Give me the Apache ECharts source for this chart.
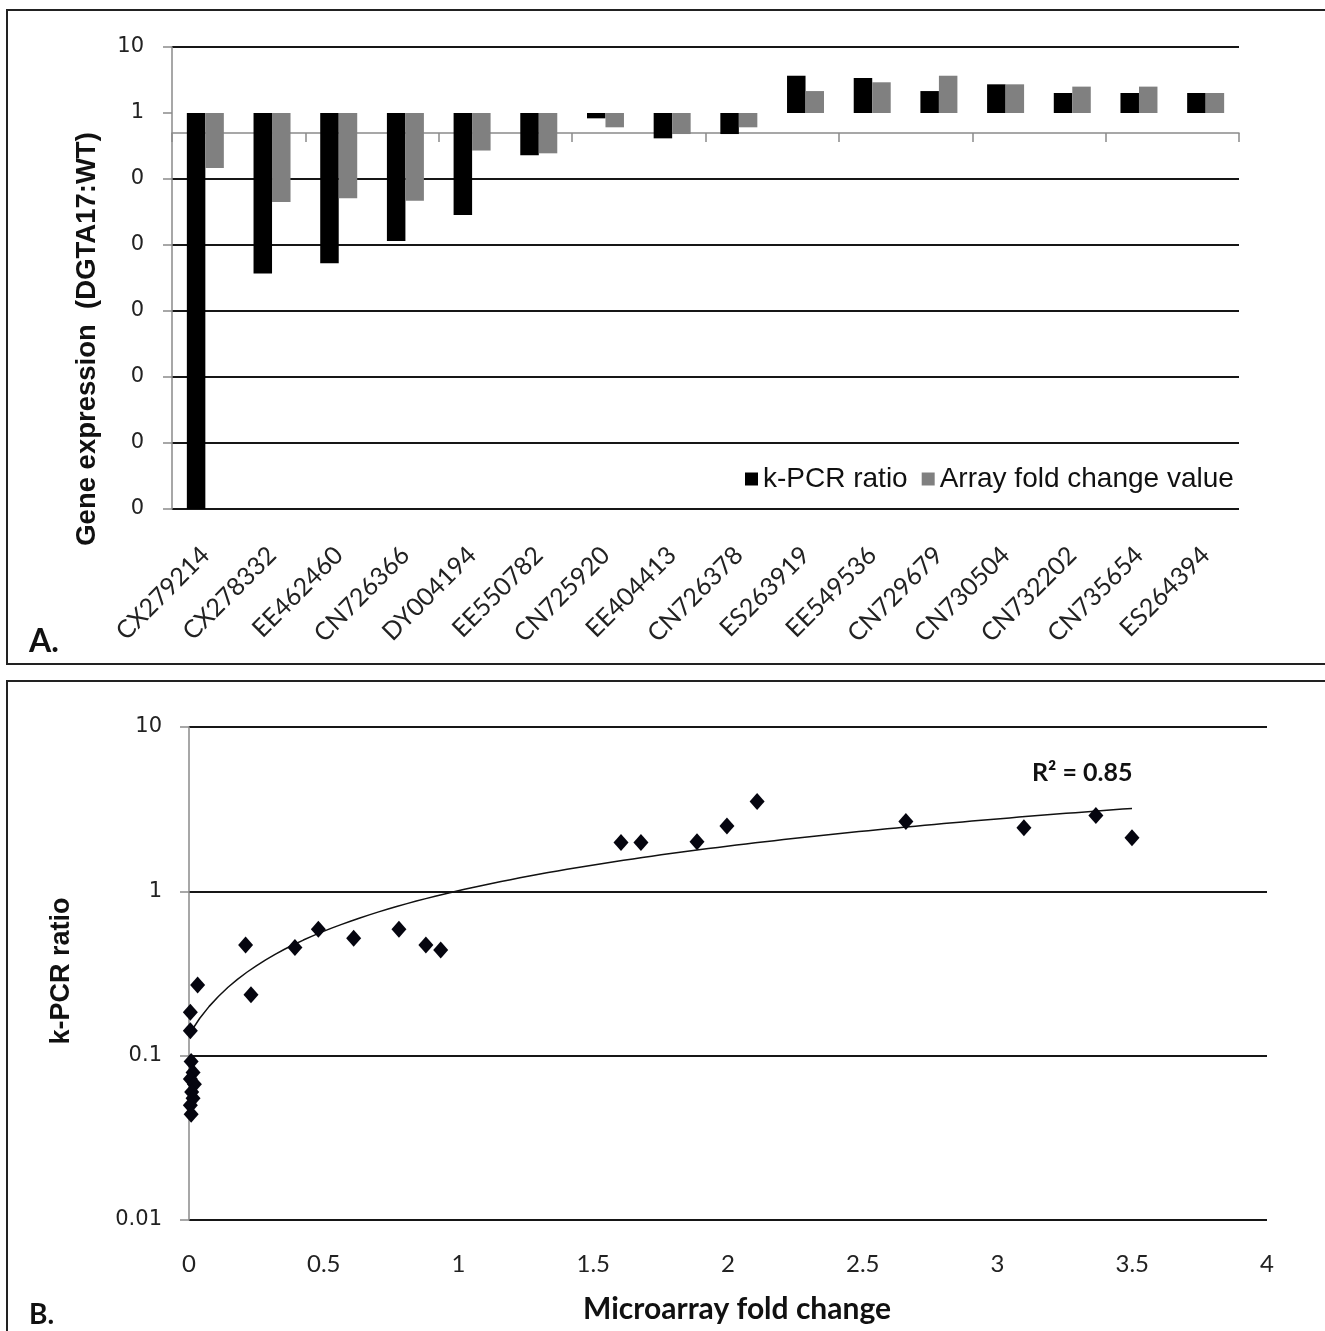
<!DOCTYPE html>
<html>
<head>
<meta charset="utf-8">
<script src="https://cdn.jsdelivr.net/npm/echarts@6/dist/echarts.min.js"></script>
<style>
html,body{margin:0;padding:0;background:#fff;}
#chart{width:1325px;height:1331px;}
</style>
</head>
<body>
<div id="chart"></div>
<script>
// ---- Panel A data ----
const genes = ['CX279214','CX278332','EE462460','CN726366','DY004194','EE550782','CN725920','EE404413',
               'CN726378','ES263919','EE549536','CN729679','CN730504','CN732202','CN735654','ES264394'];
const kpcrRatio = [0.000001, 0.0037, 0.0053, 0.0115, 0.0285, 0.229, 0.83, 0.413,
                   0.48, 3.67, 3.39, 2.15, 2.72, 2.01, 2.01, 2.01];
const arrayFoldChange = [0.147, 0.045, 0.051, 0.047, 0.27, 0.245, 0.607, 0.48,
                         0.607, 2.15, 2.92, 3.67, 2.72, 2.51, 2.51, 2.01];
const yTickValuesA = [0.000001, 0.00001, 0.0001, 0.001, 0.01, 0.1, 1, 10];
const yTickLabelsA = ['0', '0', '0', '0', '0', '0', '1', '10'];

// ---- Panel B data ----
const microarrayFC = [0.005, 0.005, 0.008, 0.015, 0.005, 0.02, 0.01, 0.015, 0.005, 0.008,
                      0.032, 0.21, 0.23, 0.393, 0.48, 0.611, 0.779, 0.879, 0.934,
                      1.603, 1.677, 1.885, 1.996, 2.108, 2.66, 3.098, 3.365, 3.499];
const kpcrB = [0.184, 0.142, 0.092, 0.079, 0.072, 0.067, 0.06, 0.055, 0.05, 0.044,
               0.269, 0.472, 0.235, 0.456, 0.587, 0.518, 0.587, 0.472, 0.44,
               1.98, 1.98, 2.0, 2.5, 3.52, 2.66, 2.44, 2.89, 2.12];
const yTickValuesB = [0.01, 0.1, 1, 10];
const yTickLabelsB = ['0.01', '0.1', '1', '10'];
const r2Text = 'R\u00B2 = 0.85';

// linear least-squares trendline fitted to panel B data
const n = microarrayFC.length;
let sx = 0, sy = 0, sxx = 0, sxy = 0;
for (let i = 0; i < n; i++) {
  sx += microarrayFC[i]; sy += kpcrB[i];
  sxx += microarrayFC[i] * microarrayFC[i]; sxy += microarrayFC[i] * kpcrB[i];
}
const slope = (n * sxy - sx * sy) / (n * sxx - sx * sx);
const intercept = (sy - slope * sx) / n;
const xMin = Math.min(...microarrayFC), xMax = Math.max(...microarrayFC);
const trend = [];
for (let i = 0; i <= 100; i++) {
  const x = xMin + (xMax - xMin) * i / 100;
  trend.push([x, intercept + slope * x]);
}

function tickLabel(values, labels) {
  return function (v) {
    let best = 0, bd = Infinity;
    for (let i = 0; i < values.length; i++) {
      const d = Math.abs(Math.log10(v) - Math.log10(values[i]));
      if (d < bd) { bd = d; best = i; }
    }
    return labels[best];
  };
}

const chart = echarts.init(document.getElementById('chart'), null, {renderer: 'canvas'});
const gridColor = '#161616';
const axisGray = '#8a8a8a';
const splitColorsA = yTickValuesA.map(v => v === 1 ? 'rgba(0,0,0,0)' : gridColor);

chart.setOption({
  animation: false,
  backgroundColor: '#fff',
  grid: [
    {left: 172, top: 47, width: 1067, height: 462, containLabel: false, outerBoundsMode: 'none'},
    {left: 189, top: 727, width: 1078, height: 493, containLabel: false, outerBoundsMode: 'none'},
    {left: 172, top: 113, width: 1067, height: 20, containLabel: false, outerBoundsMode: 'none'}
  ],
  legend: {
    data: ['k-PCR ratio', 'Array fold change value'],
    left: 740, top: 460,
    icon: 'rect', itemWidth: 13, itemHeight: 13, itemGap: 14,
    textStyle: {fontFamily: '"Liberation Sans", Arial, sans-serif', fontSize: 28, color: '#111'},
    selectedMode: false
  },
  xAxis: [
    {
      gridIndex: 0, type: 'category', data: genes,
      axisLine: {show: false}, axisTick: {show: false}, splitLine: {show: false},
      axisLabel: {interval: 0, rotate: 45, margin: 42, fontFamily: 'Lato, sans-serif', fontSize: 25, color: '#222'}
    },
    {
      gridIndex: 1, type: 'value', min: 0, max: 4, interval: 0.5,
      axisLine: {show: false}, axisTick: {show: false}, splitLine: {show: false},
      axisLabel: {margin: 32, fontFamily: 'Lato, sans-serif', fontSize: 24, color: '#222', formatter: v => String(v)}
    },
    {
      gridIndex: 2, type: 'category', data: genes, position: 'top',
      axisLine: {show: true, lineStyle: {color: axisGray, width: 1.5}},
      axisTick: {show: true, inside: true, length: 9, lineStyle: {color: axisGray, width: 1.5}},
      axisLabel: {show: false}, splitLine: {show: false}
    }
  ],
  yAxis: [
    {
      gridIndex: 0, type: 'log', logBase: 10, min: 0.000001, max: 10, splitNumber: 7,
      axisLine: {show: true, lineStyle: {color: axisGray, width: 1.5}},
      axisTick: {show: true, length: 9, lineStyle: {color: axisGray, width: 1.5}},
      splitLine: {show: true, lineStyle: {color: splitColorsA, width: 2}},
      axisLabel: {margin: 28, fontFamily: '"DejaVu Sans", Verdana, sans-serif', fontSize: 21, color: '#222',
                  formatter: tickLabel(yTickValuesA, yTickLabelsA)}
    },
    {
      gridIndex: 1, type: 'log', logBase: 10, min: 0.01, max: 10, splitNumber: 3,
      axisLine: {show: true, lineStyle: {color: axisGray, width: 1.5}},
      axisTick: {show: true, length: 9, lineStyle: {color: axisGray, width: 1.5}},
      splitLine: {show: true, lineStyle: {color: gridColor, width: 2}},
      axisLabel: {margin: 27, fontFamily: '"DejaVu Sans", Verdana, sans-serif', fontSize: 21, color: '#222',
                  formatter: tickLabel(yTickValuesB, yTickLabelsB)}
    },
    {gridIndex: 2, type: 'value', show: false}
  ],
  series: [
    {
      name: 'k-PCR ratio', type: 'bar', xAxisIndex: 0, yAxisIndex: 0,
      data: kpcrRatio, barWidth: 18.5, barGap: '0%', itemStyle: {color: '#000'}, z: 3
    },
    {
      name: 'Array fold change value', type: 'bar', xAxisIndex: 0, yAxisIndex: 0,
      data: arrayFoldChange, barWidth: 18.5, barGap: '0%', itemStyle: {color: '#808080'}, z: 3
    },
    {
      name: 'Trend', type: 'line', xAxisIndex: 1, yAxisIndex: 1, data: trend,
      showSymbol: false, symbol: 'none', smooth: false,
      lineStyle: {color: '#111', width: 1.5}, z: 3
    },
    {
      name: 'Points', type: 'scatter', xAxisIndex: 1, yAxisIndex: 1,
      data: microarrayFC.map((x, i) => [x, kpcrB[i]]),
      symbol: 'diamond', symbolSize: [15, 17], itemStyle: {color: '#05050f', opacity: 1}, z: 4
    }
  ],
  graphic: [
    {type: 'rect', shape: {x: 7, y: 10, width: 1340, height: 654}, style: {fill: 'none', stroke: '#222', lineWidth: 2}},
    {type: 'rect', shape: {x: 7, y: 681, width: 1340, height: 680}, style: {fill: 'none', stroke: '#222', lineWidth: 2}},
    {type: 'text', x: 87, y: 339, rotation: Math.PI / 2,
     style: {text: 'Gene expression  (DGTA17:WT)', fontFamily: '"Liberation Sans", Arial, sans-serif', fontWeight: 'bold',
             fontSize: 27.5, fill: '#111', align: 'center', verticalAlign: 'middle'}},
    {type: 'text', x: 62, y: 971, rotation: Math.PI / 2,
     style: {text: 'k-PCR ratio', fontFamily: '"Liberation Sans", Arial, sans-serif', fontWeight: 'bold',
             fontSize: 27, fill: '#111', align: 'center', verticalAlign: 'middle'}},
    {type: 'text', x: 737, y: 1309,
     style: {text: 'Microarray fold change', fontFamily: 'Lato, sans-serif', fontWeight: 'bold',
             fontSize: 30, fill: '#111', align: 'center', verticalAlign: 'middle'}},
    {type: 'text', x: 1032, y: 773,
     style: {text: r2Text, fontFamily: 'Lato, sans-serif', fontWeight: 'bold',
             fontSize: 25, fill: '#111', align: 'left', verticalAlign: 'middle'}},
    {type: 'text', x: 29, y: 642,
     style: {text: 'A.', fontFamily: 'Lato, sans-serif', fontWeight: 'bold',
             fontSize: 32, fill: '#111', align: 'left', verticalAlign: 'middle'}},
    {type: 'text', x: 29, y: 1315,
     style: {text: 'B.', fontFamily: 'Lato, sans-serif', fontWeight: 'bold',
             fontSize: 28, fill: '#111', align: 'left', verticalAlign: 'middle'}}
  ]
});
</script>
</body>
</html>
